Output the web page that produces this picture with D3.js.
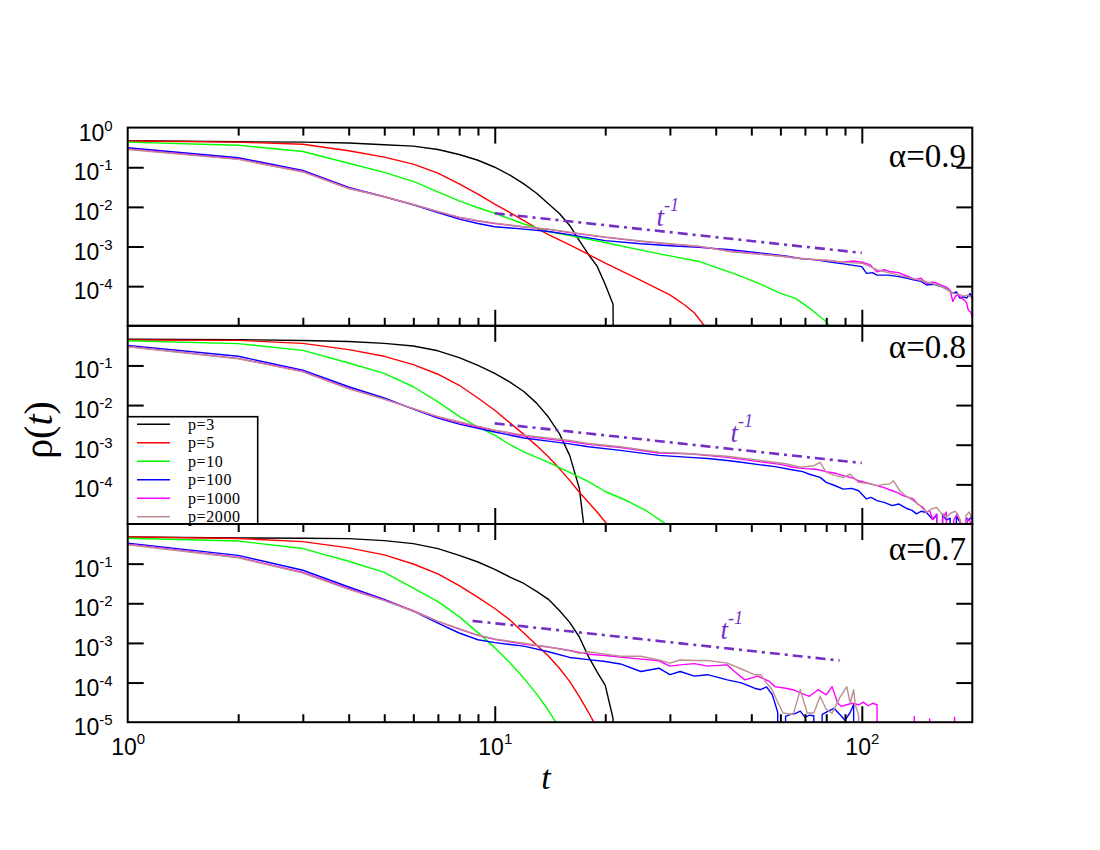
<!DOCTYPE html>
<html>
<head>
<meta charset="utf-8">
<script src="https://cdn.jsdelivr.net/npm/d3@7"></script>
<style>
  body { margin: 0; background: #fff; }
  svg { display: block; }
</style>
</head>
<body>
<svg id="chart"></svg>
<script>
const outerWidth = 1100;
const outerHeight = 850;
const plot = {left: 127.7, right: 972.3, top: 127.6, panelHeight: 198.2};

// legend / series
const seriesNames = ["p=3", "p=5", "p=10", "p=100", "p=1000", "p=2000"];
const seriesColors = ["#000000", "#ff0000", "#00ff00", "#0000ff", "#ff00ff", "#bc8f8f"];
const alphaLabels = ["\u03b1=0.9", "\u03b1=0.8", "\u03b1=0.7"];

// ticks
const xMajorTicks = [1, 10, 100];
const xMinorTicks = [2, 3, 4, 5, 6, 7, 8, 9, 20, 30, 40, 50, 60, 70, 80, 90];
const xTickExponents = [0, 1, 2];
const yTickExponents = [[0, -1, -2, -3, -4], [-1, -2, -3, -4], [-1, -2, -3, -4, -5]];

// alpha = 0.9   [t, rho]
const a09_p3 = [[1,0.47],[2,0.44],[3,0.43],[4,0.41],[5,0.37],[6,0.34],[7,0.28],[8,0.21],[9,0.15],[10,0.1],[11,0.063],[12,0.038],[13,0.022],[14,0.012],[15,6.8e-3],[16,3.4e-3],[17,1.4e-3],[18,6.3e-4],[19,3.2e-4],[20,1.1e-4],[21,3.5e-5],[22,0]];
const a09_p5 = [[1,0.46],[2,0.43],[3,0.38],[4,0.26],[5,0.18],[6,0.12],[7,0.071],[8,0.038],[9,0.021],[10,0.0117],[11,7.2e-3],[12,4.5e-3],[13,2.9e-3],[14,2.0e-3],[16,1.1e-3],[18,6.3e-4],[20,3.8e-4],[25,1.4e-4],[30,6.0e-5],[33,3.3e-5],[35,2.1e-5],[38,7.9e-6]];
const a09_p10 = [[1,0.43],[2,0.36],[3,0.25],[4,0.126],[5,0.074],[6,0.044],[7,0.024],[8,0.0141],[9,9.5e-3],[10,6.9e-3],[12,3.7e-3],[14,2.4e-3],[16,1.9e-3],[20,1.26e-3],[25,8.1e-4],[30,5.8e-4],[36,4.2e-4],[46,1.9e-4],[53,1.12e-4],[60,6.6e-5],[66,4.9e-5],[72,2.8e-5],[80,1.26e-5],[83,7.9e-6]];
const a09_p100 = [[1,0.31],[2,0.174],[3,0.083],[4,0.031],[5,0.018],[6,0.0112],[7,7.2e-3],[8,4.9e-3],[9,3.8e-3],[10,3.16e-3],[12,2.75e-3],[14,2.4e-3],[16,2.0e-3],[20,1.41e-3],[25,1.17e-3],[30,1.05e-3],[36,9.5e-4],[44,8.3e-4],[55,6.6e-4],[62,5.75e-4],[68,5.0e-4],[75,4.6e-4],[83,4.0e-4],[90,3.6e-4],[100,3.1e-4],[103,2.1e-4],[107,2.2e-4],[110,1.9e-4],[118,1.9e-4],[126,1.74e-4],[133,1.58e-4],[140,1.41e-4],[145,1.32e-4],[150,1.07e-4],[157,1.12e-4],[165,9.8e-5],[171,8.3e-5],[177,6.6e-5],[181,7.2e-5],[185,5.0e-5],[189,5.4e-5],[193,5.0e-5],[197,6.5e-5],[200,5.0e-5]];
const a09_p1000 = [[1,0.29],[2,0.162],[3,0.078],[4,0.0295],[5,0.018],[6,0.0115],[7,7.6e-3],[8,5.4e-3],[9,4.4e-3],[10,3.8e-3],[12,3.1e-3],[14,2.7e-3],[16,2.24e-3],[20,1.7e-3],[25,1.35e-3],[30,1.15e-3],[36,1.0e-3],[44,7.6e-4],[50,6.8e-4],[55,6.2e-4],[60,5.75e-4],[65,5.2e-4],[70,4.9e-4],[75,4.6e-4],[80,4.5e-4],[85,4.2e-4],[90,4.1e-4],[95,4.3e-4],[100,4.0e-4],[105,3.5e-4],[110,2.3e-4],[115,2.6e-4],[120,2.3e-4],[126,2.2e-4],[133,1.78e-4],[140,1.45e-4],[145,1.58e-4],[150,1.15e-4],[155,1.26e-4],[160,1.2e-4],[165,1.05e-4],[170,9.5e-5],[174,7.9e-5],[177,4.1e-5],[180,5.6e-5],[183,6.0e-5],[187,5.0e-5],[190,4.5e-5],[193,3.8e-5],[195,2.5e-5],[198,2.2e-5],[200,1.7e-5]];
const a09_p2000 = [[1,0.28],[2,0.158],[3,0.076],[4,0.029],[5,0.018],[6,0.0115],[7,7.6e-3],[8,5.5e-3],[9,4.5e-3],[10,3.9e-3],[12,3.16e-3],[14,2.75e-3],[16,2.3e-3],[20,1.74e-3],[25,1.38e-3],[30,1.17e-3],[36,1.02e-3],[44,7.4e-4],[50,6.6e-4],[55,6.2e-4],[62,5.5e-4],[68,5.0e-4],[75,4.7e-4],[83,4.3e-4],[90,4.0e-4],[100,3.8e-4],[105,3.16e-4],[110,2.6e-4],[118,2.2e-4],[126,1.9e-4],[133,1.66e-4],[140,1.5e-4],[150,1.29e-4],[158,1.12e-4],[165,9.8e-5],[171,8.3e-5],[177,6.6e-5],[183,6.3e-5],[190,5.6e-5],[195,6.0e-5],[200,4.9e-5]];

// alpha = 0.8
const a08_p3 = [[1,0.457],[2,0.447],[3,0.427],[4,0.40],[5,0.36],[6,0.31],[7,0.234],[8,0.158],[9,0.1],[10,0.063],[11,0.038],[12,0.022],[13,0.0112],[14,5.0e-3],[15,1.9e-3],[16,5.4e-4],[17,7.9e-5],[18,1e-6]];
const a08_p5 = [[1,0.44],[2,0.43],[3,0.36],[4,0.25],[5,0.17],[6,0.105],[7,0.060],[8,0.0316],[9,0.0151],[10,7.4e-3],[11,3.55e-3],[12,1.82e-3],[13,9.5e-4],[14,5.0e-4],[15,2.5e-4],[16,1.26e-4],[17,6.3e-5],[18,3.55e-5],[19,2.0e-5],[20,1.12e-5],[21,6.3e-6]];
const a08_p10 = [[1,0.42],[2,0.355],[3,0.24],[4,0.115],[5,0.063],[6,0.029],[7,0.012],[8,5.2e-3],[9,2.8e-3],[10,1.74e-3],[11,1.0e-3],[12,6.6e-4],[14,3.6e-4],[16,2.0e-4],[18,1.17e-4],[20,6.6e-5],[23,3.8e-5],[26,2.1e-5],[29,1.05e-5],[31,7.9e-6]];
const a08_p100 = [[1,0.32],[2,0.17],[3,0.076],[4,0.029],[5,0.0151],[6,7.9e-3],[7,4.7e-3],[8,3.3e-3],[9,2.6e-3],[10,2.1e-3],[12,1.48e-3],[14,1.23e-3],[16,1.05e-3],[18,8.9e-4],[22,7.2e-4],[28,5.4e-4],[34,4.8e-4],[38,4.5e-4],[43,4.0e-4],[47,3.6e-4],[53,3.1e-4],[58,2.8e-4],[65,2.3e-4],[69,2.1e-4],[72,1.8e-4],[77,1.5e-4],[80,1.12e-4],[84,9.5e-5],[89,7.6e-5],[94,7.9e-5],[98,6.9e-5],[103,4.3e-5],[106,4.7e-5],[110,3.9e-5],[115,3.5e-5],[121,2.9e-5],[126,3.2e-5],[132,2.5e-5],[137,2.2e-5],[141,1.8e-5],[145,2.1e-5],[150,1.95e-5],[153,1.6e-5],[156,1.3e-5],[160,1.66e-5],[163,0],[166,1.8e-5],[170,1.26e-5],[174,1.4e-5],[177,0],[181,1.6e-5],[185,1.1e-5],[189,0],[192,1.4e-5],[196,1.26e-5],[200,1.6e-5]];
const a08_p1000 = [[1,0.30],[2,0.151],[3,0.071],[4,0.0263],[5,0.0141],[6,8.1e-3],[7,5.0e-3],[8,3.6e-3],[9,2.8e-3],[10,2.3e-3],[12,1.66e-3],[14,1.38e-3],[16,1.2e-3],[18,1.02e-3],[22,8.5e-4],[28,6.2e-4],[34,5.9e-4],[43,4.8e-4],[53,3.7e-4],[60,3.2e-4],[65,2.7e-4],[70,2.5e-4],[75,2.4e-4],[80,2.1e-4],[85,1.9e-4],[89,1.66e-4],[95,1.41e-4],[98,1.23e-4],[104,1.07e-4],[110,9.3e-5],[115,8.3e-5],[121,6.9e-5],[126,6.0e-5],[130,5.1e-5],[138,4.3e-5],[142,3.2e-5],[147,2.6e-5],[150,1.95e-5],[153,2.2e-5],[156,1.3e-5],[160,1.8e-5],[163,0],[166,1.4e-5],[170,2.0e-5],[174,0],[178,1.26e-5],[182,1.8e-5],[186,1.1e-5],[190,0],[194,1.4e-5],[198,1.1e-5],[200,0]];
const a08_p2000 = [[1,0.295],[2,0.148],[3,0.069],[4,0.0257],[5,0.0141],[6,8.1e-3],[7,5.1e-3],[8,3.8e-3],[9,2.95e-3],[10,2.34e-3],[12,1.74e-3],[14,1.48e-3],[16,1.29e-3],[18,1.07e-3],[22,8.9e-4],[28,6.5e-4],[34,5.9e-4],[43,5.1e-4],[53,4.0e-4],[62,3.3e-4],[68,2.7e-4],[74,2.95e-4],[77,3.6e-4],[80,2.0e-4],[85,1.66e-4],[89,1.5e-4],[93,1.8e-4],[98,1.12e-4],[104,1.05e-4],[110,9.3e-5],[115,1.0e-4],[119,1.02e-4],[122,1.23e-4],[127,6.9e-5],[132,5.1e-5],[138,3.9e-5],[144,2.9e-5],[150,1.95e-5],[155,2.4e-5],[160,2.6e-5],[165,1.8e-5],[170,1.48e-5],[175,1.9e-5],[180,2.1e-5],[185,1.35e-5],[188,0],[192,1.6e-5],[196,2.0e-5],[200,1.26e-5]];

// alpha = 0.7
const a07_p3 = [[1,0.47],[2,0.447],[3,0.437],[4,0.427],[5,0.38],[6,0.32],[7,0.24],[8,0.162],[9,0.11],[10,0.072],[11,0.0457],[12,0.0316],[13,0.020],[14,0.0126],[15,6.6e-3],[16,3.3e-3],[17,1.41e-3],[18,4.5e-4],[19,1.86e-4],[20,8.5e-5],[21,1.26e-5],[22,0]];
const a07_p5 = [[1,0.47],[2,0.43],[3,0.36],[4,0.25],[5,0.166],[6,0.098],[7,0.055],[8,0.028],[9,0.0141],[10,7.4e-3],[11,3.8e-3],[12,1.78e-3],[13,8.9e-4],[14,4.7e-4],[15,2.3e-4],[16,1.07e-4],[17,4.4e-5],[18,1.78e-5],[19,7.1e-6]];
const a07_p10 = [[1,0.437],[2,0.372],[3,0.24],[4,0.115],[5,0.060],[6,0.024],[7,0.011],[8,4.6e-3],[9,1.82e-3],[10,7.6e-4],[11,3.16e-4],[12,1.29e-4],[13,5.2e-5],[14,2.0e-5],[15,7.1e-6]];
const a07_p100 = [[1,0.33],[2,0.162],[3,0.068],[4,0.0257],[5,0.0126],[6,6.3e-3],[7,3.16e-3],[8,1.78e-3],[9,1.2e-3],[10,1.02e-3],[11,9.1e-4],[12,8.3e-4],[14,6.0e-4],[16,4.3e-4],[18,3.8e-4],[20,3.4e-4],[22,2.95e-4],[25,1.9e-4],[28,2.3e-4],[30,1.58e-4],[32,1.9e-4],[35,1.45e-4],[38,1.58e-4],[43,1.17e-4],[47,9.8e-5],[51,7.2e-5],[53,6.6e-5],[55,7.8e-5],[57,5.0e-5],[58,3.0e-5],[59,1.78e-5],[60,0],[62,1.41e-5],[64,1.58e-5],[66,1.66e-5],[68,1.9e-5],[70,1.32e-5],[72,1.5e-5],[74,1.45e-5],[75,0],[78,1.58e-5],[81,1.9e-5],[84,2.24e-5],[87,1.58e-5],[90,1.12e-5],[93,1.78e-5],[95,2.8e-5],[96,0]];
const a07_p1000 = [[1,0.31],[2,0.145],[3,0.060],[4,0.0234],[5,0.012],[6,6.5e-3],[7,3.5e-3],[8,2.24e-3],[9,1.55e-3],[10,1.23e-3],[12,9.3e-4],[14,7.9e-4],[16,6.5e-4],[18,5.2e-4],[20,4.8e-4],[23,4.2e-4],[26,3.8e-4],[28,3.55e-4],[30,2.6e-4],[32,2.8e-4],[35,3.0e-4],[38,2.6e-4],[43,2.8e-4],[45,1.9e-4],[48,1.17e-4],[52,1.45e-4],[56,1.07e-4],[58,7.9e-5],[62,7.2e-5],[65,6.6e-5],[68,5.5e-5],[72,4.5e-5],[76,6.6e-5],[80,4.9e-5],[83,7.9e-5],[86,3.0e-5],[88,2.5e-5],[91,2.75e-5],[94,3.0e-5],[98,2.75e-5],[101,3.2e-5],[104,2.6e-5],[107,3.0e-5],[110,2.75e-5],[112,0],[138,0],[139,1.4e-5],[140,0],[152,0],[153,1.2e-5],[154,0],[178,0],[179,1.32e-5],[180,0]];
const a07_p2000 = [[1,0.30],[2,0.141],[3,0.0575],[4,0.0224],[5,0.0117],[6,6.3e-3],[7,3.5e-3],[8,2.3e-3],[9,1.58e-3],[10,1.26e-3],[12,9.8e-4],[14,7.9e-4],[16,6.3e-4],[17,5.5e-4],[18,6.0e-4],[20,5.2e-4],[22,4.6e-4],[25,4.6e-4],[28,3.7e-4],[30,3.1e-4],[32,3.7e-4],[35,3.6e-4],[38,3.6e-4],[43,3.1e-4],[47,2.2e-4],[51,1.58e-4],[53,1.58e-4],[55,9.8e-5],[57,6.6e-5],[58,4.5e-5],[61,1.7e-5],[65,1.55e-5],[68,6.6e-5],[71,1.7e-5],[74,1.7e-5],[77,4.5e-5],[80,2.1e-5],[83,1.7e-5],[87,4.1e-5],[91,7.9e-5],[93,3.0e-5],[95,6.6e-5],[96,2.75e-5],[98,1.55e-5],[99,0]];

// t^-1 guide lines and their label anchors
const guideA09 = [[10, 6.9e-3], [100, 6.9e-4]];
const guideA08 = [[10, 3.45e-3], [100, 3.45e-4]];
const guideA07 = [[8.7, 3.6e-3], [87, 3.6e-4]];
const guideLabelAt = [[27.6, 3.3e-3], [43.9, 1.15e-3], [41.2, 1.24e-3]];

const panels = [
  {series: [a09_p3, a09_p5, a09_p10, a09_p100, a09_p1000, a09_p2000], guide: guideA09, minorX: true, alphaDy: 39.5},
  {series: [a08_p3, a08_p5, a08_p10, a08_p100, a08_p1000, a08_p2000], guide: guideA08, minorX: false, alphaDy: 32.3},
  {series: [a07_p3, a07_p5, a07_p10, a07_p100, a07_p1000, a07_p2000], guide: guideA07, minorX: true, alphaDy: 36}
];

const serif = "'Liberation Serif', 'Times New Roman', serif";
const guideColor = "#7430c4";

const svg = d3.select("#chart")
  .attr("width", outerWidth)
  .attr("height", outerHeight)
  .style("font-family", serif);

const x = d3.scaleLog().domain([1, 200]).range([plot.left, plot.right]);

panels.forEach(function (p, i) {
  const top = plot.top + i * plot.panelHeight;
  const bottom = top + plot.panelHeight;
  const y = d3.scaleLog().domain([1e-5, 1]).range([bottom, top]);
  const g = svg.append("g").attr("class", "panel");

  g.append("clipPath").attr("id", "clip" + i)
    .append("rect")
    .attr("x", plot.left).attr("y", top)
    .attr("width", plot.right - plot.left).attr("height", plot.panelHeight);

  // zero counts on a log axis drop straight off the bottom
  const line = d3.line()
    .x(d => x(d[0]))
    .y(d => y(Math.max(d[1], 1e-30)));

  const body = g.append("g").attr("clip-path", "url(#clip" + i + ")");

  body.selectAll("path.series")
    .data(p.series)
    .enter()
    .append("path")
    .attr("class", "series")
    .attr("d", line)
    .style("fill", "none")
    .style("stroke", (d, k) => seriesColors[k])
    .style("stroke-width", 1.4)
    .style("stroke-linejoin", "round");

  body.append("path")
    .datum(p.guide)
    .attr("d", line)
    .style("fill", "none")
    .style("stroke", guideColor)
    .style("stroke-width", 2.6)
    .style("stroke-dasharray", "10,5,3,5");

  // t^-1 label
  const gl = guideLabelAt[i];
  const lab = g.append("text")
    .attr("x", x(gl[0]))
    .attr("y", y(gl[1]))
    .style("fill", guideColor)
    .style("font-style", "italic")
    .style("font-size", "27px");
  lab.append("tspan").text("t");
  lab.append("tspan").attr("dy", -15).style("font-size", "18px").text("-1");

  // ticks
  function styleAxis(sel) {
    sel.select(".domain").remove();
    sel.selectAll(".tick line").style("stroke", "#000").style("stroke-width", 2);
  }
  g.append("g").attr("transform", "translate(0," + bottom + ")")
    .call(d3.axisBottom(x).tickValues(xMajorTicks.slice(1)).tickSize(-16).tickFormat(""))
    .call(styleAxis);
  g.append("g").attr("transform", "translate(0," + top + ")")
    .call(d3.axisTop(x).tickValues(xMajorTicks.slice(1)).tickSize(-16).tickFormat(""))
    .call(styleAxis);
  if (p.minorX) {
    g.append("g").attr("transform", "translate(0," + bottom + ")")
      .call(d3.axisBottom(x).tickValues(xMinorTicks).tickSize(-8).tickFormat(""))
      .call(styleAxis);
    g.append("g").attr("transform", "translate(0," + top + ")")
      .call(d3.axisTop(x).tickValues(xMinorTicks).tickSize(-8).tickFormat(""))
      .call(styleAxis);
  }
  const yTicks = [1e-1, 1e-2, 1e-3, 1e-4];
  g.append("g").attr("transform", "translate(" + plot.left + ",0)")
    .call(d3.axisLeft(y).tickValues(yTicks).tickSize(-16).tickFormat(""))
    .call(styleAxis);
  g.append("g").attr("transform", "translate(" + plot.right + ",0)")
    .call(d3.axisRight(y).tickValues(yTicks).tickSize(-16).tickFormat(""))
    .call(styleAxis);

  // y tick labels 10^n
  const yl = g.append("g").attr("transform", "translate(" + plot.left + ",0)")
    .call(d3.axisLeft(y).tickValues(yTickExponents[i].map(e => Math.pow(10, e))).tickSize(0).tickFormat(""));
  yl.select(".domain").remove();
  yl.selectAll(".tick").each(function (d) {
    const t = d3.select(this).append("text")
      .attr("x", -15).attr("y", 12.5)
      .attr("text-anchor", "end")
      .style("fill", "#000")
      .style("font-size", "23px");
    t.append("tspan").text("10");
    t.append("tspan").attr("dy", -10).style("font-size", "15px").text(Math.round(Math.log10(d)));
  });

  // frame
  g.append("rect")
    .attr("x", plot.left).attr("y", top)
    .attr("width", plot.right - plot.left).attr("height", plot.panelHeight)
    .style("fill", "none").style("stroke", "#000").style("stroke-width", 2);

  g.append("text")
    .attr("x", 966).attr("y", top + p.alphaDy)
    .attr("text-anchor", "end")
    .style("font-size", "33px")
    .text(alphaLabels[i]);

  // legend in middle panel
  if (i === 1) {
    const lg = g.append("g");
    lg.append("rect")
      .attr("x", plot.left).attr("y", 416.7)
      .attr("width", 130).attr("height", bottom - 416.7)
      .style("fill", "#fff").style("stroke", "#000").style("stroke-width", 1.6);
    seriesNames.forEach(function (name, k) {
      const ry = 424.3 + k * 18.5;
      lg.append("line")
        .attr("x1", 137).attr("x2", 170).attr("y1", ry).attr("y2", ry)
        .style("stroke", seriesColors[k]).style("stroke-width", 1.4);
      lg.append("text")
        .attr("x", 188).attr("y", ry + 5.5)
        .style("font-size", "16px")
        .style("letter-spacing", "0.6px")
        .text(name);
    });
  }

  // x tick labels on bottom panel
  if (i === panels.length - 1) {
    const xl = g.append("g").attr("transform", "translate(0," + bottom + ")")
      .call(d3.axisBottom(x).tickValues(xTickExponents.map(e => Math.pow(10, e))).tickSize(0).tickFormat(""));
    xl.select(".domain").remove();
    xl.selectAll(".tick").each(function (d) {
      const t = d3.select(this).append("text")
        .attr("y", 33)
        .attr("text-anchor", "middle")
        .style("fill", "#000")
        .style("font-size", "23px");
      t.append("tspan").text("10");
      t.append("tspan").attr("dy", -11).style("font-size", "15px").text(Math.round(Math.log10(d)));
    });
  }
});

// axis titles
svg.append("text")
  .attr("x", 546).attr("y", 789)
  .attr("text-anchor", "middle")
  .style("font-style", "italic")
  .style("font-size", "34px")
  .text("t");

const yt = svg.append("text")
  .attr("transform", "translate(52,430) rotate(-90)")
  .attr("text-anchor", "middle")
  .style("font-size", "40px");
yt.append("tspan").text("\u03c1(");
yt.append("tspan").style("font-style", "italic").text("t");
yt.append("tspan").text(")");
</script>
</body>
</html>
